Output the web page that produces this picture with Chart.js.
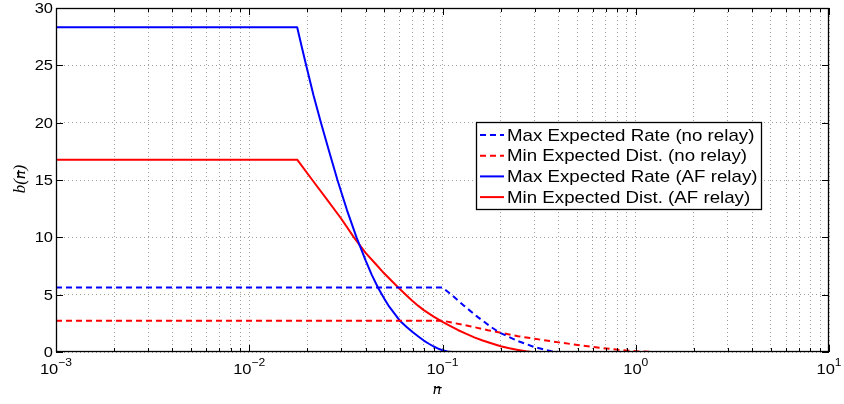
<!DOCTYPE html>
<html>
<head>
<meta charset="utf-8">
<script src="https://cdn.jsdelivr.net/npm/chart.js@4.4.1/dist/chart.umd.min.js"></script>
<style>
  html, body { margin: 0; padding: 0; background: #fff; }
  #wrap { width: 844px; height: 404px; }
</style>
</head>
<body>
<div id="wrap"><canvas id="chart" width="844" height="404"></canvas></div>
<script>
// ------------------------------------------------------------------
// Data. x = n̄ on a log axis, y = b(n̄)
// ------------------------------------------------------------------

const rateNoRelayX = [0.001, 0.1, 0.1107, 0.13, 0.1524, 0.1786, 0.2, 0.246, 0.3, 0.366, 0.40];
const rateNoRelayY = [5.62, 5.62, 5.03, 4.0, 3.04, 2.17, 1.64, 0.95, 0.42, 0.06, 0];

const distNoRelayX = [0.001, 0.1, 0.1152, 0.1406, 0.1718, 0.2, 0.246, 0.3, 0.4, 0.524, 0.653, 0.813, 1.03, 1.28];
const distNoRelayY = [2.73, 2.73, 2.52, 2.23, 1.9, 1.68, 1.38, 1.15, 0.84, 0.57, 0.37, 0.19, 0.05, 0];

const rateAfX = [0.001, 0.0177, 0.0187, 0.0197, 0.0215, 0.0235, 0.026, 0.0286, 0.032, 0.0359, 0.040, 0.043, 0.0464, 0.050, 0.053, 0.060, 0.065, 0.070, 0.075, 0.080, 0.085, 0.090, 0.095, 0.100, 0.106, 0.112];
const rateAfY = [28.32, 28.32, 26.6, 25, 22.4, 20, 17.4, 15, 12.4, 10, 8.0, 6.75, 5.6, 4.65, 3.95, 2.75, 2.2, 1.74, 1.35, 1.0, 0.72, 0.48, 0.3, 0.15, 0.04, 0];

const distAfX = [0.001, 0.0177, 0.0212, 0.025, 0.030, 0.0348, 0.040, 0.045, 0.050, 0.059, 0.065, 0.070, 0.075, 0.080, 0.090, 0.100, 0.110, 0.120, 0.133, 0.146, 0.160, 0.172, 0.200, 0.222, 0.246, 0.270, 0.288];
const distAfY = [16.77, 16.77, 15, 13.4, 11.6, 10, 8.65, 7.7, 6.84, 5.62, 4.95, 4.45, 4.02, 3.65, 3.08, 2.62, 2.25, 1.92, 1.58, 1.28, 1.03, 0.85, 0.5, 0.32, 0.18, 0.06, 0];

const legendLabels = [
  "Max Expected Rate (no relay)",
  "Min Expected Dist. (no relay)",
  "Max Expected Rate (AF relay)",
  "Min Expected Dist. (AF relay)",
];

// gridlines / inner tick marks: 1..9 per decade
const xTickValues = [
  0.001, 0.002, 0.003, 0.004, 0.005, 0.006, 0.007, 0.008, 0.009,
  0.01, 0.02, 0.03, 0.04, 0.05, 0.06, 0.07, 0.08, 0.09,
  0.1, 0.2, 0.3, 0.4, 0.5, 0.6, 0.7, 0.8, 0.9,
  1, 2, 3, 4, 5, 6, 7, 8, 9, 10,
];
const xMajorTicks = [0.001, 0.01, 0.1, 1, 10];
const xMajorExponents = ["\u22123", "\u22122", "\u22121", "0", "1"];
const yTickValues = [0, 5, 10, 15, 20, 25, 30];

const BLUE = "#0000ff";
const RED = "#ff0000";
const FONT = "'Liberation Sans', Arial, Helvetica, sans-serif";
const SERIF = "'Liberation Serif', 'DejaVu Serif', serif";
const TEXT_SX = 1.1;   // figure text is a little wider than the font

const pts = (xs, ys) => xs.map((x, i) => ({ x, y: ys[i] }));

// ------------------------------------------------------------------
// Drawing helpers
// ------------------------------------------------------------------

function wideText(ctx, str, x, y, align) {
  const w = ctx.measureText(str).width * TEXT_SX;
  const left = align === "center" ? x - w / 2 : align === "right" ? x - w : x;
  ctx.save();
  ctx.translate(left, y);
  ctx.scale(TEXT_SX, 1);
  ctx.textAlign = "left";
  ctx.fillText(str, 0, 0);
  ctx.restore();
  return w;
}

function seg(ctx, x1, y1, x2, y2) {
  ctx.beginPath();
  ctx.moveTo(x1, y1);
  ctx.lineTo(x2, y2);
  ctx.stroke();
}

// "n" with a bar over it, centred on (cx, cy) in the current transform
function nBar(ctx, before, after, cx, cy) {
  const full = before + "n" + after;
  const w = ctx.measureText(full).width;
  const wb = ctx.measureText(before).width;
  const wn = ctx.measureText("n").width;
  const left = cx - w / 2;
  ctx.textAlign = "left";
  ctx.fillText(full, left, cy);
  ctx.fillRect(left + wb + 1.5, cy - 7, wn - 1, 1.2);
}

// box, inner ticks, tick labels, axis titles and legend (MATLAB look)
const matlabFrame = {
  id: "matlabFrame",
  afterDraw(chart) {
    const { ctx, chartArea: a, scales: { x, y } } = chart;
    ctx.save();
    ctx.strokeStyle = "#000";
    ctx.fillStyle = "#000";
    ctx.lineWidth = 1;

    // inward tick marks on all four sides
    xTickValues.forEach(v => {
      const px = Math.round(x.getPixelForValue(v)) + 0.5;
      const len = xMajorTicks.includes(v) ? 7 : 4;
      seg(ctx, px, a.bottom, px, a.bottom - len);
      seg(ctx, px, a.top, px, a.top + len);
    });
    yTickValues.forEach(v => {
      const py = Math.round(y.getPixelForValue(v)) + 0.5;
      seg(ctx, a.left, py, a.left + 7, py);
      seg(ctx, a.right, py, a.right - 7, py);
    });

    // axes box
    ctx.lineWidth = 1.3;
    ctx.strokeRect(a.left + 0.5, a.top + 0.5, a.right - a.left - 1, a.bottom - a.top - 1);

    // y tick labels
    ctx.font = `15px ${FONT}`;
    ctx.textBaseline = "middle";
    yTickValues.forEach(v => {
      wideText(ctx, String(v), a.left - 3, y.getPixelForValue(v) + 1, "right");
    });

    // x tick labels: 10^k with a raised exponent
    ctx.textBaseline = "alphabetic";
    xMajorTicks.forEach((v, i) => {
      const px = x.getPixelForValue(v);
      ctx.font = `15px ${FONT}`;
      const wBase = ctx.measureText("10").width * TEXT_SX;
      ctx.font = `11px ${FONT}`;
      const wExp = ctx.measureText(xMajorExponents[i]).width * TEXT_SX;
      const left = px - (wBase + wExp) / 2;
      ctx.font = `15px ${FONT}`;
      wideText(ctx, "10", left, 374, "left");
      ctx.font = `11px ${FONT}`;
      wideText(ctx, xMajorExponents[i], left + wBase, 366, "left");
    });

    // axis titles
    ctx.font = `italic 17px ${SERIF}`;
    ctx.textBaseline = "alphabetic";
    nBar(ctx, "", "", 437, 394);
    ctx.save();
    ctx.translate(25, 179);
    ctx.rotate(-Math.PI / 2);
    nBar(ctx, "b(", ")", 0, 0);
    ctx.restore();

    // legend
    const box = { left: 476.5, top: 122.5, width: 285, height: 87 };
    ctx.fillStyle = "#fff";
    ctx.fillRect(box.left, box.top, box.width, box.height);
    ctx.lineWidth = 1.3;
    ctx.strokeRect(box.left, box.top, box.width, box.height);
    ctx.font = `17px ${FONT}`;
    ctx.textBaseline = "middle";
    chart.data.datasets.forEach((ds, i) => {
      const rowY = 135 + i * 20.7;
      ctx.strokeStyle = ds.borderColor;
      ctx.lineWidth = 2;
      ctx.setLineDash(ds.borderDash || []);
      seg(ctx, 480, rowY, 504, rowY);
      ctx.setLineDash([]);
      ctx.fillStyle = "#000";
      wideText(ctx, ds.label, 507, rowY + 1, "left");
    });

    ctx.restore();
  },
};

// ------------------------------------------------------------------
// Chart
// ------------------------------------------------------------------

const gridColor = "rgba(0,0,0,0.38)";

new Chart(document.getElementById("chart").getContext("2d"), {
  type: "line",
  data: {
    datasets: [
      { label: legendLabels[0], data: pts(rateNoRelayX, rateNoRelayY), borderColor: BLUE, borderDash: [6, 4] },
      { label: legendLabels[1], data: pts(distNoRelayX, distNoRelayY), borderColor: RED, borderDash: [6, 4] },
      { label: legendLabels[2], data: pts(rateAfX, rateAfY), borderColor: BLUE },
      { label: legendLabels[3], data: pts(distAfX, distAfY), borderColor: RED },
    ],
  },
  options: {
    responsive: false,
    animation: false,
    devicePixelRatio: 1,
    layout: { padding: { top: 8, right: 15, left: 0, bottom: 0 } },
    elements: {
      point: { radius: 0 },
      line: { borderWidth: 2, tension: 0, fill: false, borderJoinStyle: "round" },
    },
    plugins: {
      legend: { display: false },
      tooltip: { enabled: false },
    },
    scales: {
      x: {
        type: "logarithmic",
        min: 0.001,
        max: 10,
        afterBuildTicks: s => { s.ticks = xTickValues.map(v => ({ value: v })); },
        afterFit: s => { s.height = 52; },
        ticks: { display: false },
        grid: { color: gridColor, drawTicks: false, lineWidth: 1 },
        border: { display: false, dash: [1, 3] },
      },
      y: {
        min: 0,
        max: 30,
        afterBuildTicks: s => { s.ticks = yTickValues.map(v => ({ value: v })); },
        afterFit: s => { s.width = 56; },
        ticks: { display: false },
        grid: { color: gridColor, drawTicks: false, lineWidth: 1 },
        border: { display: false, dash: [1, 3] },
      },
    },
  },
  plugins: [matlabFrame],
});
</script>
</body>
</html>
